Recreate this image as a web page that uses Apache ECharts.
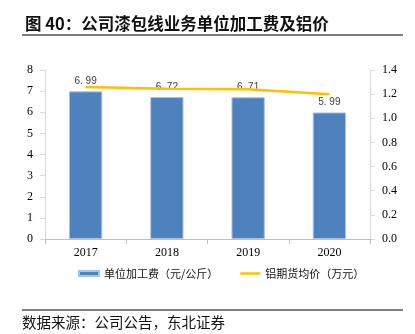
<!DOCTYPE html>
<html><head><meta charset="utf-8">
<script src="https://cdn.jsdelivr.net/npm/echarts@6/dist/echarts.min.js"></script>
<style>html,body{margin:0;padding:0;background:#fff}#c{width:415px;height:334px}</style>
</head><body><div id="c"></div>
<script>
const categories = ['2017','2018','2019','2020'];
const processingFee = [6.99, 6.72, 6.71, 5.99];
const aluminumPrice = [1.26, 1.245, 1.24, 1.20];
const leftTicks = [0,1,2,3,4,5,6,7,8];
const rightTicks = ['0.0','0.2','0.4','0.6','0.8','1.0','1.2','1.4'];

const chart = echarts.init(document.getElementById('c'));
const serif = '"Liberation Serif", "Noto Sans CJK SC", serif';
const cjk = '"Noto Sans CJK SC", sans-serif';
chart.setOption({
  animation: false,
  title: {
    text: '图 40：公司漆包线业务单位加工费及铝价',
    left: 20, top: 10,
    textStyle: { fontFamily: cjk, fontSize: 16.5, fontWeight: 'bold', color: '#111' }
  },
  graphic: [
    { type: 'line', shape: { x1: 22, y1: 35, x2: 403, y2: 35 }, style: { stroke: '#000', lineWidth: 1 } },
    { type: 'line', shape: { x1: 22, y1: 310, x2: 403, y2: 310 }, style: { stroke: '#000', lineWidth: 1 } },
    { type: 'text', left: 22, top: 315, style: { text: '数据来源：公司公告，东北证券', font: '14.5px "Noto Sans CJK SC"', fill: '#111' } }
  ],
  grid: { left: 45, right: 45, top: 70, bottom: 95, containLabel: false },
  legend: {
    bottom: 50, left: 73,
    itemWidth: 20, itemHeight: 5, itemGap: 22,
    textStyle: { fontFamily: cjk, fontSize: 11, color: '#111' },
    data: [
      { name: '单位加工费（元/公斤）', icon: 'rect' },
      { name: '铝期货均价（万元）', icon: 'path://M0,0h40v5h-40z' }
    ]
  },
  xAxis: {
    type: 'category', data: categories,
    axisLine: { lineStyle: { color: '#bfbfbf' } },
    axisTick: { show: true, alignWithLabel: false, lineStyle: { color: '#bfbfbf' } },
    axisLabel: { fontFamily: serif, fontSize: 12, color: '#000', margin: 8 }
  },
  yAxis: [
    {
      type: 'value', min: 0, max: 8, interval: 1,
      axisLine: { show: true, lineStyle: { color: '#d9d9d9' } },
      axisTick: { show: true, lineStyle: { color: '#d9d9d9' } },
      splitLine: { show: false },
      axisLabel: { fontFamily: serif, fontSize: 12, color: '#000', margin: 12,
        formatter: v => String(leftTicks[Math.round(v)]) }
    },
    {
      type: 'value', min: 0, max: 1.4, interval: 0.2,
      axisLine: { show: true, lineStyle: { color: '#d9d9d9' } },
      axisTick: { show: true, lineStyle: { color: '#d9d9d9' } },
      splitLine: { show: false },
      axisLabel: { fontFamily: serif, fontSize: 12, color: '#000', margin: 12,
        formatter: v => rightTicks[Math.round(v / 0.2)] }
    }
  ],
  series: [
    {
      name: '单位加工费（元/公斤）', type: 'bar', data: processingFee,
      barWidth: '41%',
      itemStyle: { color: '#4f81bd', borderColor: '#a9c3e4', borderWidth: 1 },
      label: { show: true, position: 'top', distance: 5, fontFamily: '"Liberation Sans", sans-serif', fontSize: 10, color: '#404040',
        formatter: p => p.value.toFixed(2).replace('.', '. ') }
    },
    {
      name: '铝期货均价（万元）', type: 'line', yAxisIndex: 1, data: aluminumPrice,
      symbol: 'none', smooth: false,
      lineStyle: { color: '#ffc000', width: 2.5 },
      itemStyle: { color: '#ffc000' }
    }
  ]
});
</script></body></html>
